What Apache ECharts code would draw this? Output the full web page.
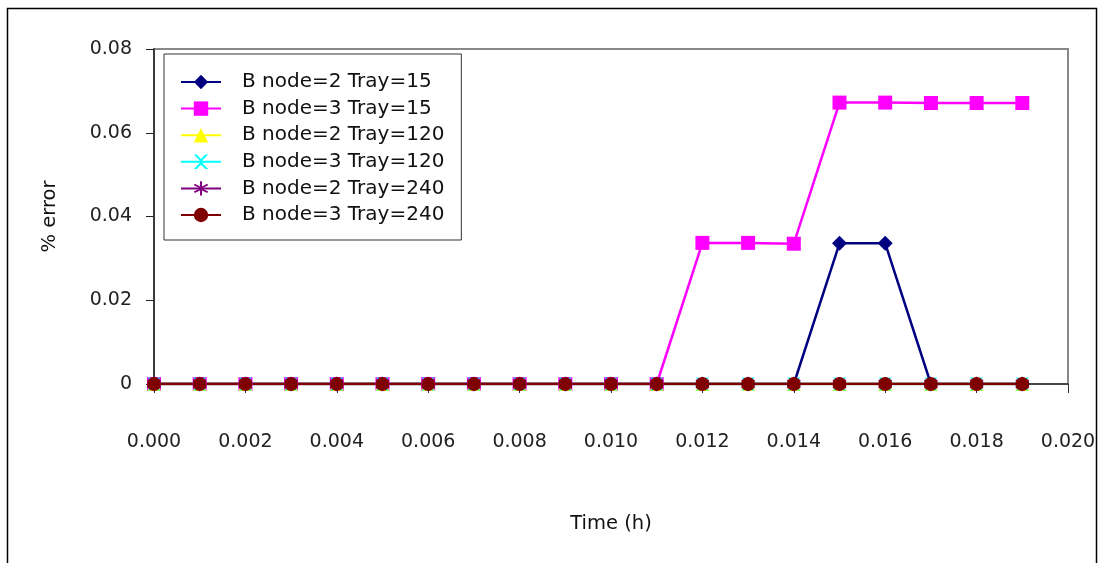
<!DOCTYPE html>
<html>
<head>
<meta charset="utf-8">
<script src="https://cdn.jsdelivr.net/npm/echarts@6/dist/echarts.min.js"></script>
<style>
  html, body { margin: 0; padding: 0; background: #fff; }
  #chart { width: 1103px; height: 563px; }
</style>
</head>
<body>
<div id="chart"></div>
<script>
// Time steps (h)
const times = [0.000, 0.001, 0.002, 0.003, 0.004, 0.005, 0.006, 0.007, 0.008, 0.009,
               0.010, 0.011, 0.012, 0.013, 0.014, 0.015, 0.016, 0.017, 0.018, 0.019];

// % error per configuration
const bn2Tray15  = [0, 0, 0, 0, 0, 0, 0, 0, 0, 0, 0, 0, 0, 0, 0, 0.0336, 0.0336, 0, 0, 0];
const bn3Tray15  = [0, 0, 0, 0, 0, 0, 0, 0, 0, 0, 0, 0, 0.0337, 0.0337, 0.0335, 0.0672, 0.0672, 0.0671, 0.0671, 0.0671];
const bn2Tray120 = [0, 0, 0, 0, 0, 0, 0, 0, 0, 0, 0, 0, 0, 0, 0, 0, 0, 0, 0, 0];
const bn3Tray120 = [0, 0, 0, 0, 0, 0, 0, 0, 0, 0, 0, 0, 0, 0, 0, 0, 0, 0, 0, 0];
const bn2Tray240 = [0, 0, 0, 0, 0, 0, 0, 0, 0, 0, 0, 0, 0, 0, 0, 0, 0, 0, 0, 0];
const bn3Tray240 = [0, 0, 0, 0, 0, 0, 0, 0, 0, 0, 0, 0, 0, 0, 0, 0, 0, 0, 0, 0];

const seriesNames = [
  'B node=2 Tray=15', 'B node=3 Tray=15', 'B node=2 Tray=120',
  'B node=3 Tray=120', 'B node=2 Tray=240', 'B node=3 Tray=240'
];
const seriesValues = [bn2Tray15, bn3Tray15, bn2Tray120, bn3Tray120, bn2Tray240, bn3Tray240];

const FONT = '"DejaVu Sans", Verdana, sans-serif';

const crossPath = 'path://M0,0 L2,0 L5,3 L8,0 L10,0 L6,4 L6,6 L10,10 L8,10 L5,7 L2,10 L0,10 L4,6 L4,4 Z';
const starPath = 'path://M4.4,0 L5.6,0 L5.6,3.6 L8.7,1.8 L9.3,2.8 L6.2,4.6 L6.2,5.4 L9.3,7.2 L8.7,8.2 L5.6,6.4 L5.6,10 L4.4,10 L4.4,6.4 L1.3,8.2 L0.7,7.2 L3.8,5.4 L3.8,4.6 L0.7,2.8 L1.3,1.8 L4.4,3.6 Z';

const styles = [
  { color: '#000080', symbol: 'diamond',  size: 15 },
  { color: '#ff00ff', symbol: 'rect',     size: 14 },
  { color: '#ffff00', symbol: 'triangle', size: 14 },
  { color: '#00ffff', symbol: crossPath,  size: 13 },
  { color: '#800080', symbol: starPath,   size: 14 },
  { color: '#800000', symbol: 'circle',   size: 14 }
];

const series = seriesNames.map((name, i) => ({
  name: name,
  type: 'line',
  data: times.map((t, k) => [t, seriesValues[i][k]]),
  symbol: styles[i].symbol,
  symbolSize: styles[i].size,
  showAllSymbol: true,
  lineStyle: { color: styles[i].color, width: 2.5 },
  itemStyle: { color: styles[i].color },
  animation: false
}));

const chart = echarts.init(document.getElementById('chart'));
chart.setOption({
  animation: false,
  backgroundColor: '#fff',
  graphic: [{
    type: 'rect',
    shape: { x: 7.5, y: 8.5, width: 1089, height: 570 },
    style: { fill: 'none', stroke: '#000', lineWidth: 1.5 },
    silent: true
  }],
  grid: {
    left: 154, right: 35, top: 49, bottom: 179,
    show: true, borderColor: '#888', borderWidth: 2, backgroundColor: 'transparent'
  },
  legend: {
    left: 164, top: 54, orient: 'vertical',
    padding: [18, 17, 15, 16],
    itemGap: 6.6, itemWidth: 40, itemHeight: 18,
    backgroundColor: '#fff', borderColor: '#333', borderWidth: 1,
    textStyle: { fontFamily: FONT, fontSize: 20, color: '#111', padding: [0, 0, 0, 16] },
    data: seriesNames
  },
  xAxis: {
    type: 'value', min: 0, max: 0.02, interval: 0.002,
    name: 'Time (h)', nameLocation: 'middle', nameGap: 130,
    nameTextStyle: { fontFamily: FONT, fontSize: 19.5, color: '#111' },
    axisLine: { lineStyle: { color: '#333', width: 1.5 } },
    axisTick: { show: true, length: 9, lineStyle: { color: '#333' } },
    axisLabel: { margin: 49, fontFamily: FONT, fontSize: 19, color: '#222',
                 formatter: v => v.toFixed(3) },
    splitLine: { show: false }
  },
  yAxis: {
    type: 'value', min: 0, max: 0.08, interval: 0.02,
    name: '% error', nameLocation: 'middle', nameGap: 94, nameRotate: 90,
    nameTextStyle: { fontFamily: FONT, fontSize: 19.5, color: '#111' },
    axisLine: { show: true, lineStyle: { color: '#222', width: 1.5 } },
    axisTick: { show: true, length: 8, lineStyle: { color: '#222' } },
    axisLabel: { margin: 22, fontFamily: FONT, fontSize: 19, color: '#222',
                 formatter: v => v === 0 ? '0' : v.toFixed(2) },
    splitLine: { show: false }
  },
  series: series
});
</script>
</body>
</html>
